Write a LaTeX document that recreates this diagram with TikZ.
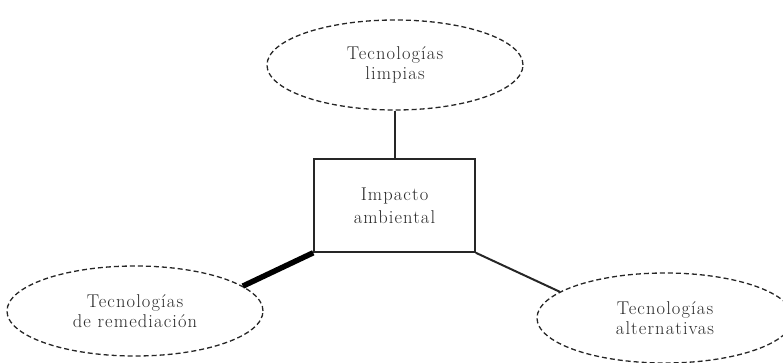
\documentclass[tikz,border=0pt]{standalone}
\usepackage{fontspec}
\setmainfont{Latin Modern Roman}[LetterSpace=6]
\usetikzlibrary{shapes.geometric}
\definecolor{txt}{HTML}{2A2A2A}
\tikzset{
  techell/.style={ellipse, draw=black!85, line width=1.3pt, dash pattern=on 5pt off 3pt,
    minimum width=256pt, minimum height=90pt, inner sep=0pt, align=center,
    font=\fontsize{18.5}{20}\selectfont, text=txt},
  centralbox/.style={rectangle, draw=black!85, line width=1.5pt, minimum width=161pt,
    minimum height=93pt, inner sep=0pt, align=center,
    font=\fontsize{18.5}{23}\selectfont, text=txt},
  thinlink/.style={draw=black!85, line width=2pt},
  thicklink/.style={draw=black, line width=5.5pt}
}
\begin{document}
\begin{tikzpicture}[x=1pt,y=-1pt]
\useasboundingbox (0,0) rectangle (783,362);
\node[centralbox] (box) at (394.5,205.5) {Impacto\\ambiental};
\node[techell] (top) at (395,65) {Tecnologías\\limpias};
\node[techell] (rem) at (135,311) {Tecnologías\\de remediación};
\node[techell] (alt) at (665,318) {Tecnologías\\alternativas};
\draw[thinlink] (top.south) -- (top.south |- box.north);
\draw[thicklink] (box.south west) -- (rem.13);
\draw[thinlink] (box.south east) -- (alt.166);
\end{tikzpicture}
\end{document}
